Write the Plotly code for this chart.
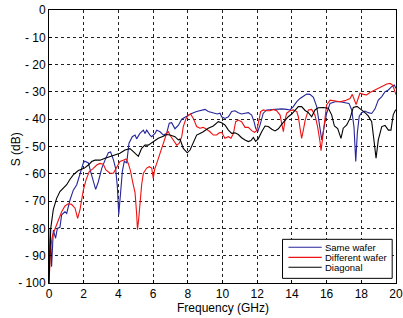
import plotly.graph_objects as go

# ---- data ----
same_f = [0, 0.03, 0.07, 0.15, 0.25, 0.38, 0.48, 0.63, 0.73, 0.92, 1.02, 1.21, 1.4, 1.6, 1.79, 1.98, 2.07, 2.27,
          2.4, 2.55, 2.69, 2.84, 3.04, 3.23, 3.42, 3.55, 3.71, 3.84, 3.94, 4.02, 4.11, 4.23, 4.34, 4.48, 4.61, 4.8,
          4.96, 5.05, 5.24, 5.44, 5.53, 5.63, 5.82, 5.92, 6.11, 6.21, 6.4, 6.59, 6.78, 6.93, 7.07, 7.26, 7.45, 7.65,
          7.84, 8.03, 8.22, 8.51, 8.8, 8.99, 9.18, 9.47, 9.7, 9.86, 9.95, 10.14, 10.34, 10.53, 10.72, 10.91, 11.1,
          11.3, 11.49, 11.68, 11.82, 11.91, 12.03, 12.16, 12.35, 12.55, 12.84, 13.12, 13.41, 13.7, 13.89, 14.08,
          14.28, 14.47, 14.66, 14.85, 15.04, 15.24, 15.43, 15.62, 15.72, 15.81, 16.0, 16.2, 16.48, 16.77, 17.06,
          17.29, 17.45, 17.58, 17.68, 17.77, 17.88, 18.02, 18.21, 18.4, 18.6, 18.79, 18.98, 19.18, 19.37, 19.56,
          19.75, 19.9, 20.0]
same_db = [-96, -82, -80, -94, -80.6, -83.6, -80, -79.6, -75, -73.9, -74.5, -69.6, -66, -64, -59.8, -56, -55.4, -56,
           -59.2, -62.3, -65.7, -63, -58, -55, -52.3, -52, -54.8, -58, -64.7, -75, -68.2, -59, -55.4, -56, -48.8, -46.4,
           -45.8, -47.2, -45.2, -44, -45.2, -44, -45.8, -46.4, -45.2, -44, -44.6, -45.8, -45.2, -41.5, -41.3, -43.5,
           -42.3, -40, -39.3, -38.5, -37.9, -37.2, -36.8, -36.4, -37.2, -37.8, -38.1, -37.8, -39.1, -39.7, -39.1,
           -37.2, -36.9, -37.6, -38.1, -37.8, -37.6, -38.5, -40.9, -43.3, -44.6, -42.2, -37.8, -36.6, -36.4, -36.4,
           -36.2, -36.4, -36.6, -35.4, -33.6, -32.4, -31.5, -30.8, -30.9, -32, -35.4, -42.7, -47.6, -44.5, -37.9,
           -34.2, -33.6, -33.6, -33.9, -34.2, -36.6, -43, -55.5, -45.2, -38.9, -37.6, -37, -37.6, -37.9, -36.2, -33,
           -31.7, -29.9, -29.3, -28.1, -27.5, -28.8]

diff_f = [0, 0.1, 0.21, 0.35, 0.54, 0.73, 0.92, 1.11, 1.3, 1.5, 1.65, 1.79, 1.88, 1.98, 2.13, 2.32, 2.52, 2.75, 2.94,
          3.13, 3.28, 3.51, 3.71, 3.86, 4.09, 4.28, 4.44, 4.57, 4.7, 4.82, 4.96, 5.05, 5.1, 5.17, 5.26, 5.34, 5.44,
          5.63, 5.78, 5.92, 6.01, 6.09, 6.21, 6.4, 6.59, 6.78, 6.88, 6.97, 7.16, 7.36, 7.51, 7.65, 7.74, 7.9, 8.03,
          8.16, 8.32, 8.41, 8.51, 8.7, 8.89, 9.08, 9.28, 9.47, 9.66, 9.82, 9.95, 10.14, 10.34, 10.49, 10.63, 10.76,
          10.91, 11.1, 11.3, 11.49, 11.68, 11.84, 11.97, 12.06, 12.2, 12.35, 12.55, 12.74, 12.93, 13.12, 13.32,
          13.41, 13.51, 13.6, 13.7, 13.89, 14.08, 14.28, 14.37, 14.47, 14.56, 14.66, 14.76, 14.95, 15.14, 15.33,
          15.48, 15.62, 15.68, 15.78, 15.87, 16.0, 16.2, 16.48, 16.77, 17.06, 17.35, 17.48, 17.6, 17.7, 17.8, 17.92,
          18.12, 18.3, 18.5, 18.79, 19.08, 19.28, 19.47, 19.66, 19.8, 19.91, 20.0]
diff_db = [-100, -86.7, -82.4, -80, -77, -73.9, -71.8, -71, -71.2, -72.6, -76.3, -73, -69.6, -66, -62.3, -59.2, -58.2,
           -56.8, -56.2, -56.5, -58.6, -59.8, -59.8, -58, -55.5, -55, -54.6, -56.2, -59, -63, -67, -74.5, -80.5, -76.5,
           -69, -64, -59.8, -57.9, -57.4, -57.9, -61.7, -58.4, -56.2, -52.5, -48.8, -45.2, -44.6, -45.8, -47.6, -49.5,
           -48.8, -46.4, -42.7, -39.7, -38.5, -38.1, -39.7, -40.9, -42.7, -43.3, -43, -43.7, -44.6, -45.8, -45.8, -45,
           -44.8, -47, -46.4, -47, -45.2, -40.9, -40.3, -40.9, -43, -43, -44.2, -44.8, -44.2, -41.5, -37.2, -36.6,
           -36.9, -36.9, -36.4, -36.9, -38.5, -41.5, -44.6, -40.3, -37.8, -36.9, -36.6, -37.2, -39.1, -43.3, -47, -44,
           -40.5, -36.6, -36.4, -38.5, -42.7, -48.2, -51.5, -46.4, -41.8, -34.8, -33, -33.2, -33.6, -33.2, -32.4,
           -30.9, -32.8, -34.6, -32.8, -30.5, -30.9, -31.1, -30.2, -29.3, -28.3, -27.5, -27.1, -26.9, -27.5, -29.3, -31]

diag_f = [0, 0.05, 0.1, 0.25, 0.44, 0.63, 0.83, 1.02, 1.21, 1.4, 1.69, 2.02, 2.27, 2.46, 2.65, 2.94, 3.23, 3.52, 3.8,
          4.09, 4.38, 4.67, 4.86, 5.05, 5.15, 5.34, 5.53, 5.72, 6.01, 6.3, 6.59, 6.78, 6.97, 7.26, 7.45, 7.55, 7.74,
          7.97, 8.13, 8.32, 8.51, 8.7, 8.89, 9.18, 9.47, 9.76, 9.95, 10.14, 10.34, 10.53, 10.72, 10.91, 11.1, 11.3,
          11.49, 11.64, 11.78, 11.91, 12.06, 12.26, 12.45, 12.64, 12.84, 13.03, 13.22, 13.41, 13.6, 13.79, 13.99,
          14.18, 14.37, 14.56, 14.76, 14.95, 15.14, 15.33, 15.52, 15.81, 16.1, 16.29, 16.45, 16.64, 16.83, 16.96,
          17.16, 17.35, 17.54, 17.75, 18.02, 18.21, 18.4, 18.6, 18.75, 18.85, 18.98, 19.18, 19.37, 19.56, 19.71,
          19.84, 19.95, 20.0]
diag_db = [-100, -88, -80, -73, -69, -66.5, -65.3, -64, -62, -60.4, -58.8, -58, -56.8, -55.5, -55, -55, -54.3, -53.7,
           -52.9, -52.5, -51.3, -50.8, -51.9, -53, -53.6, -50.7, -49.5, -49.5, -48.2, -47, -46.2, -45.6, -45.8, -46.4,
           -47.6, -47.3, -50.7, -52.3, -51.3, -48.2, -45.8, -45.2, -44.6, -43.3, -42.5, -40.9, -41.3, -42.1, -44,
           -45.2, -45, -45.6, -46.8, -47.6, -48.2, -47.8, -46.7, -48.1, -47.2, -44.6, -42.5, -42.7, -43.7, -44.3,
           -43.5, -41.9, -40.3, -39.1, -38.1, -36.6, -35.4, -35.4, -36.8, -37.6, -39.1, -36.6, -35.8, -35.7, -36,
           -38.4, -42.5, -43.4, -47, -43.3, -42.1, -39.7, -35.7, -35.3, -36.6, -37.6, -38.8, -40.9, -48.8, -54.3,
           -47.6, -42.7, -42.3, -44, -44, -38.4, -36.9, -36.5]

x_ticks = [0, 2, 4, 6, 8, 10, 12, 14, 16, 18, 20]
y_ticks = [0, -10, -20, -30, -40, -50, -60, -70, -80, -90, -100]
y_tick_text = ["0", "- 10", "- 20", "- 30", "- 40", "- 50", "- 60", "- 70", "- 80", "- 90", "- 100"]

series = [
    ("Same wafer", same_f, same_db, "#25259a"),
    ("Different wafer", diff_f, diff_db, "#ee1111"),
    ("Diagonal", diag_f, diag_db, "#000000"),
]

fig = go.Figure()
for name, xs, ys, col in series:
    fig.add_trace(go.Scatter(x=xs, y=ys, mode="lines", name=name, showlegend=False,
                             line=dict(color=col, width=1.1)))

font = "Liberation Sans, Arial, sans-serif"
axis_common = dict(
    showline=True, linecolor="black", linewidth=1, mirror=True,
    showgrid=True, gridcolor="#222222", griddash="dot", gridwidth=1,
    ticks="inside", ticklen=3, tickcolor="black", automargin=False,
    zeroline=False, tickfont=dict(family=font, size=12, color="black"),
)

# legend box drawn in paper coordinates (bottom-right, like the reference)
shapes = [dict(type="rect", xref="paper", yref="paper", x0=0.673, x1=0.989, y0=0.017, y1=0.160,
               line=dict(color="black", width=1), fillcolor="white", layer="above")]
annotations = []
rows = [0.131, 0.094, 0.0575]
for (name, _, _, col), yy in zip(series, rows):
    shapes.append(dict(type="line", xref="paper", yref="paper", x0=0.690, x1=0.786, y0=yy, y1=yy,
                       line=dict(color=col, width=1.1), layer="above"))
    annotations.append(dict(text=name, xref="paper", yref="paper", x=0.790, y=yy, xanchor="left",
                            yanchor="middle", showarrow=False,
                            font=dict(family=font, size=9.5, color="black")))

annotations.append(dict(text="Frequency (GHz)", xref="paper", yref="paper", x=0.5, y=-0.09,
                        xanchor="center", yanchor="middle", showarrow=False,
                        font=dict(family=font, size=12, color="black")))
annotations.append(dict(text="S (dB)", xref="paper", yref="paper", x=-0.095, y=0.49,
                        xanchor="center", yanchor="middle", textangle=-90, showarrow=False,
                        font=dict(family=font, size=12, color="black")))

fig.update_layout(
    width=403, height=318,
    margin=dict(l=49, r=7, t=10, b=35),
    paper_bgcolor="white", plot_bgcolor="white",
    showlegend=False,
    shapes=shapes, annotations=annotations,
    xaxis=dict(range=[0, 20], tickvals=x_ticks, **axis_common),
    yaxis=dict(range=[-100, 0], tickvals=y_ticks, ticktext=y_tick_text, **axis_common),
)

fig.write_html("out.html", config={"displayModeBar": False},
               post_script="document.body.style.margin='0';")
